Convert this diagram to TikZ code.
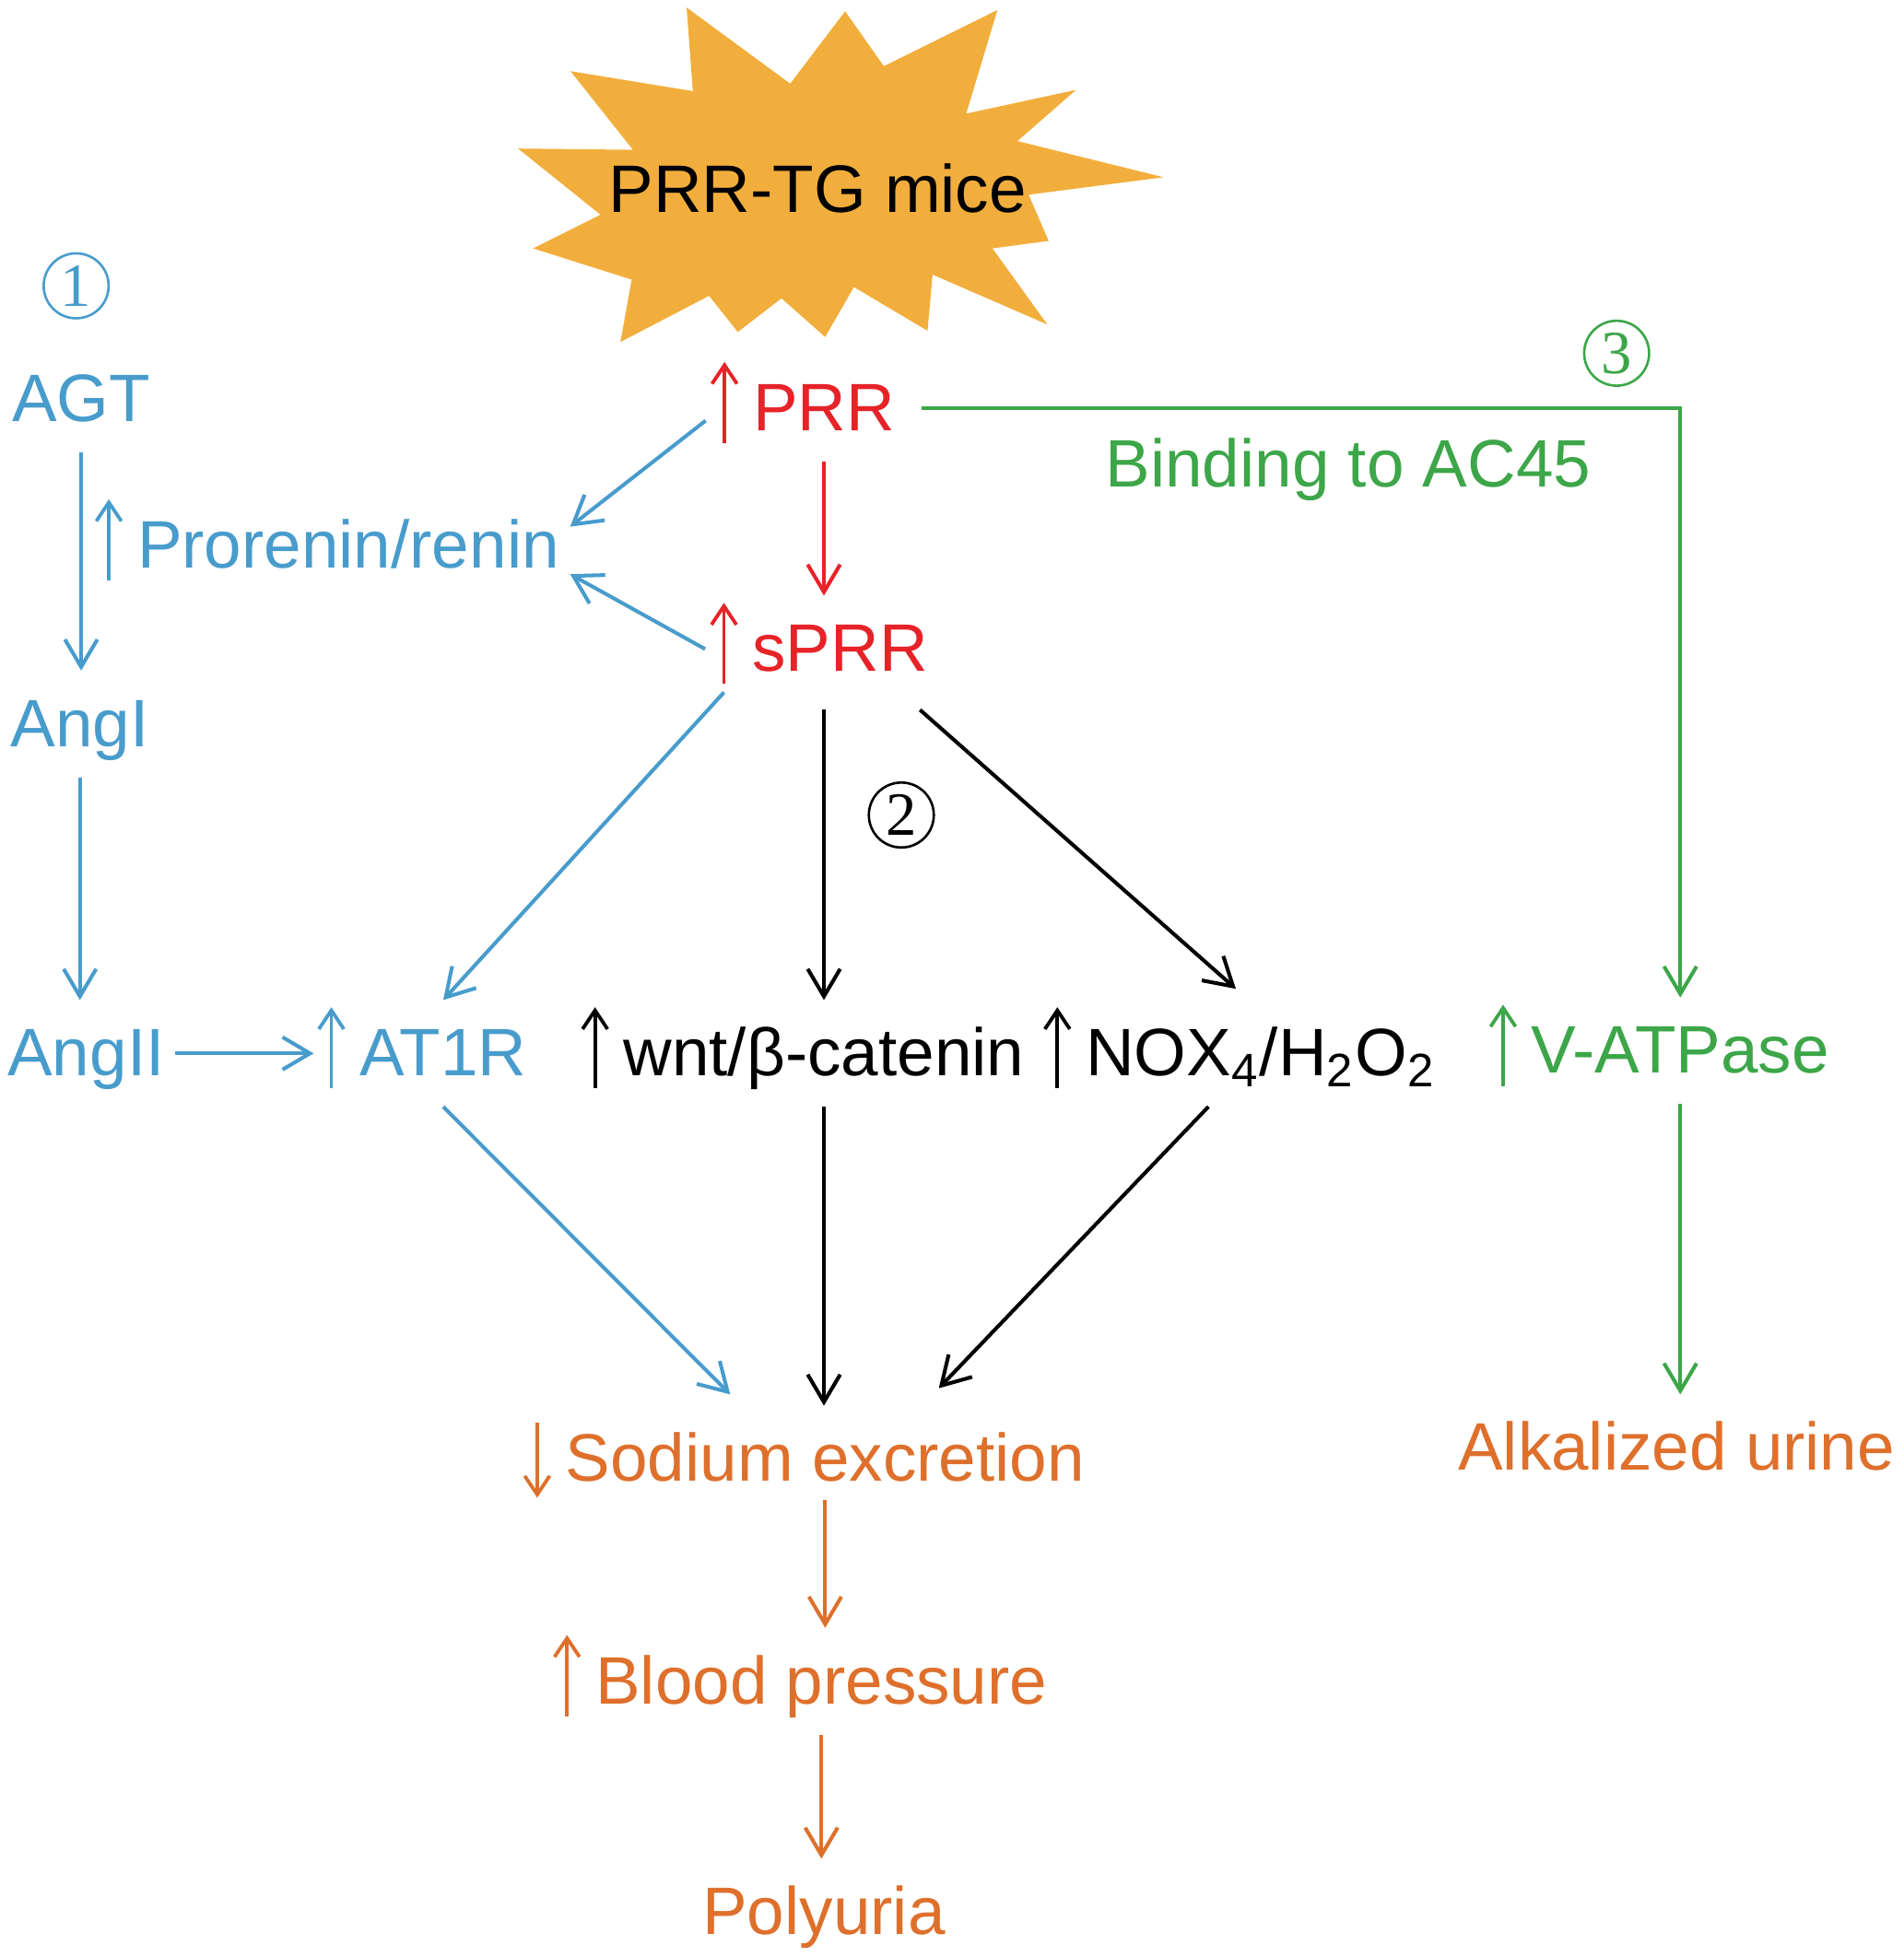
\documentclass[tikz,border=0pt]{standalone}
\usepackage{fontspec}
\setmainfont{Liberation Sans}
\newfontfamily\numserif{Liberation Serif}
\usepackage{xcolor}
\usepackage{tikz}
\usetikzlibrary{arrows.meta, calc}
\definecolor{cblue}{RGB}{72,156,204}
\definecolor{cred}{RGB}{230,35,40}
\definecolor{cgreen}{RGB}{60,166,72}
\definecolor{corange}{RGB}{222,112,44}
\definecolor{cstar}{RGB}{242,174,60}
\newcommand{\fs}{\fontsize{15.3pt}{18pt}\selectfont}
\tikzstyle{glyph} = [-{Straight Barb[length=0.15cm, width=0.2cm]}, line width=0.8pt]
% small up / down arrows written in front of a label
\newcommand{\upa}[1]{\tikz[baseline=0pt]\draw[glyph, #1] (0pt,-0.1cm) -- (0pt,0.55cm);}
\newcommand{\dna}[1]{\tikz[baseline=0pt]\draw[glyph, #1] (0pt,0.47cm) -- (0pt,-0.13cm);}
\tikzstyle{txt} = [inner xsep=0.08cm, inner ysep=0pt, text height=0.6cm, text depth=0.24cm, anchor=base, font=\fs]
\tikzstyle{lab} = [inner sep=0pt, text height=0.6cm, text depth=0.24cm]
\tikzstyle{num} = [circle, draw, line width=0.55pt, minimum size=0.52cm, inner sep=0pt, font=\numserif\fontsize{14pt}{16pt}\selectfont]
\tikzstyle{arr} = [-{Straight Barb[length=0.22cm, width=0.26cm]}, line width=0.85pt]

\begin{document}
\begin{tikzpicture}[x=0.01cm, y=-0.01cm, label distance=0.02cm]
  \useasboundingbox (0,0) rectangle (1525,1568);
  % ---------- starburst ----------
  \fill[cstar] (550,6) -- (633,67) -- (677,9) -- (708,53) -- (799,8) -- (774,91)
    -- (862,72) -- (815,113) -- (932,142) -- (824,156) -- (840,193) -- (795,199)
    -- (839,260) -- (747,220) -- (743,265) -- (684,230) -- (661,270) -- (626,239)
    -- (591,266) -- (568,237) -- (497,274) -- (506,224) -- (427,199) -- (481,172)
    -- (415,119) -- (507,120) -- (457,57) -- (555,73) -- cycle;
  \node[txt] (mice) at (655,170) {PRR-TG mice};
  % ---------- pathway numbers ----------
  \node[num, cblue] (one) at (61,229) {1};
  \node[num] (two) at (722,653) {2};
  \node[num, cgreen] (three) at (1295,283) {3};
  % ---------- pathway 1 (blue) ----------
  \node[txt, text=cblue] (agt) at (65,338) {AGT};
  \node[txt, text=cblue, label={[lab]left:\upa{cblue}}] (renin) at (279,455) {Prorenin/renin};
  \node[txt, text=cblue] (angi) at (64,598) {AngI};
  \node[txt, text=cblue] (angii) at (69,862) {AngII};
  \node[txt, text=cblue, label={[lab, name=at1rup]left:\upa{cblue}}] (at1r) at (355,862) {AT1R};
  % ---------- receptor (red) ----------
  \node[txt, text=cred, label={[lab, name=prrup]left:\upa{cred}}] (prr) at (660,345) {PRR};
  \node[txt, text=cred, label={[lab, name=sprrup]left:\upa{cred}}] (sprr) at (673,538) {sPRR};
  % ---------- pathway 2 (black) ----------
  \node[txt, label={[lab]left:\upa{black}}] (wnt) at (660,862) {wnt/β-catenin};
  \node[txt, label={[lab]left:\upa{black}}] (nox) at (1010,862) {NOX\textsubscript{4}/H\textsubscript{2}O\textsubscript{2}};
  % ---------- pathway 3 (green) ----------
  \node[txt, text=cgreen] (ac45) at (1080,390) {Binding to AC45};
  \node[txt, text=cgreen, label={[lab]left:\upa{cgreen}}] (vatp) at (1346,860) {V-ATPase};
  % ---------- outcomes (orange) ----------
  \node[txt, text=corange, label distance=0.08cm, label={[lab]left:\dna{corange}}] (sodium) at (661,1187) {Sodium excretion};
  \node[txt, text=corange, label distance=0.13cm, label={[lab]left:\upa{corange}}] (blood) at (658,1365) {Blood pressure};
  \node[txt, text=corange] (poly) at (660,1550) {Polyuria};
  \node[txt, text=corange] (alk) at (1343,1178) {Alkalized urine};
  % ---------- edges ----------
  \draw[arr, cblue] (agt.south) -- (agt.south |- angi.north);
  \draw[arr, cblue] (angi.south) -- (angi.south |- angii.north);
  \draw[arr, cblue] (angii.east) -- ([xshift=-0.02cm]angii.east -| at1rup.west);
  \draw[arr, cblue] ([xshift=-0.03cm, yshift=-0.1cm]prrup.west) -- ([yshift=0.15cm]renin.east);
  \draw[arr, cblue] ([xshift=-0.03cm]sprrup.west) -- ([yshift=-0.23cm]renin.east);
  \draw[arr, cblue] ([yshift=0.08cm]sprrup.south) -- (at1r.north);
  \draw[arr, cblue] (at1r.south) -- ([xshift=-0.76cm, yshift=0.09cm]sodium.north);
  \draw[arr, cred] (prr.south) -- (prr.south |- sprr.north);
  \draw[arr] ([yshift=-0.06cm]sprr.south -| wnt.north) -- (wnt.north);
  \draw[arr] ([xshift=-0.15cm, yshift=-0.06cm]sprr.south east) -- ([xshift=-0.2cm, yshift=0.09cm]nox.north);
  \draw[arr] (wnt.south) -- (wnt.south |- sodium.north);
  \draw[arr] ([xshift=-0.42cm]nox.south) -- ([xshift=0.91cm, yshift=0.14cm]sodium.north);
  \draw[arr, cgreen] ([xshift=0.13cm]prr.east) -| (vatp.north);
  \draw[arr, cgreen] (vatp.south) -- (vatp.south |- alk.north);
  \draw[arr, corange] ([yshift=0.1cm]sodium.south) -- (sodium.south |- blood.north);
  \draw[arr, corange] (blood.south) -- (blood.south |- poly.north);
\end{tikzpicture}
\end{document}
